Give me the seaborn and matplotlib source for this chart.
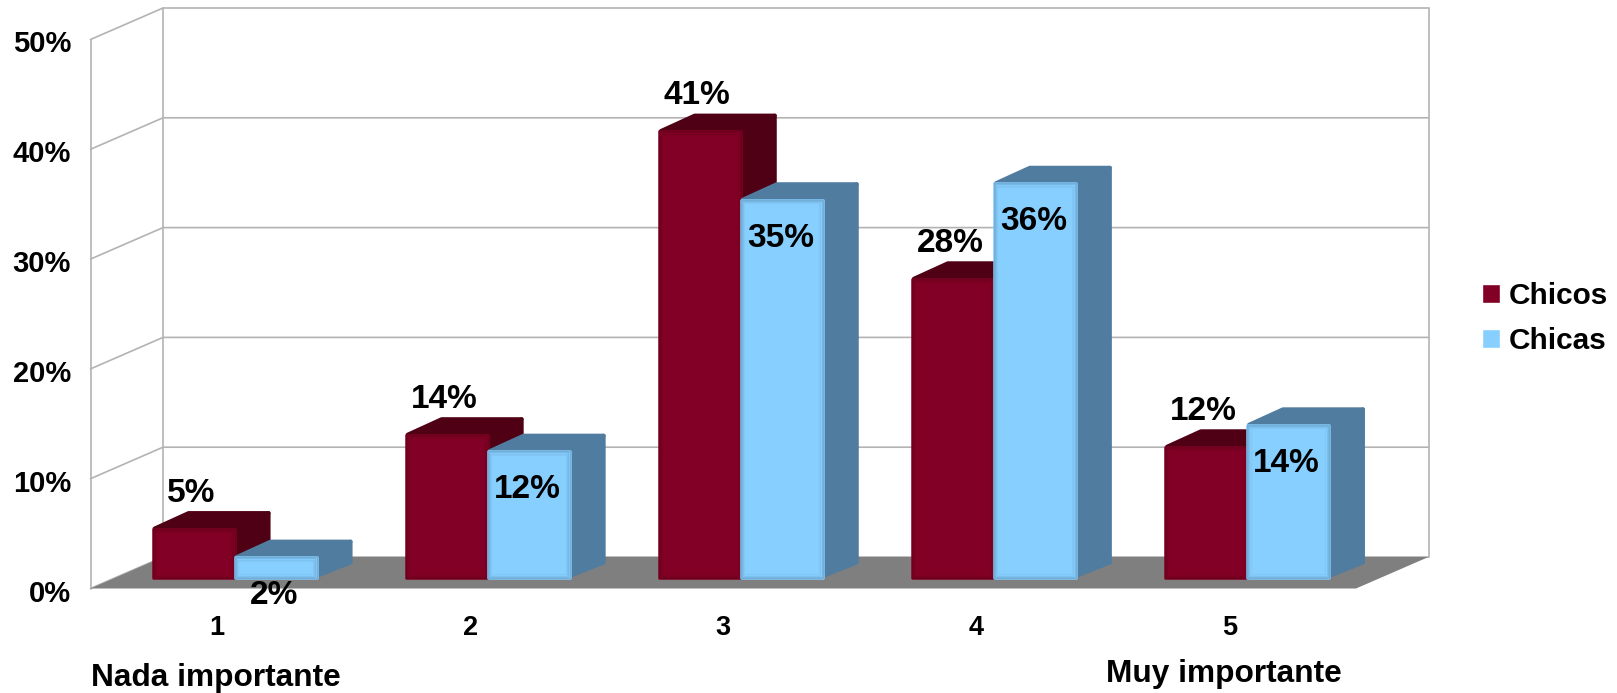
import matplotlib
matplotlib.use('Agg')
import matplotlib.pyplot as plt
import matplotlib.transforms as mtransforms
from matplotlib.patches import Polygon, Rectangle
from matplotlib.ticker import PercentFormatter
import pandas as pd
import seaborn as sns

# Data (bar heights differ a little from the printed labels)
categories = ['1', '2', '3', '4', '5']
chicos = [4.5, 13.05, 40.7, 27.25, 11.95]
chicas = [1.9, 11.55, 34.45, 35.95, 13.95]
chicos_labels = ['5%', '14%', '41%', '28%', '12%']
chicas_labels = ['2%', '12%', '35%', '36%', '14%']
y_ticks = [0, 10, 20, 30, 40, 50]

# Colours
front_colors = {'Chicos': '#820025', 'Chicas': '#87cfff'}
side_colors = {'Chicos': '#4f0014', 'Chicas': '#507ca0'}
edge_colors = {'Chicos': '#5e0018', 'Chicas': '#5f93ba'}
grid_color = '#b3b3b3'
floor_color = '#7f7f7f'

sns.set_theme(style='white')
plt.rcParams['font.family'] = ['Liberation Sans', 'DejaVu Sans']
plt.rcParams['font.weight'] = 'bold'

# Font sizes
tick_size = 21
xtick_size = 19.5
value_size = 24
note_size = 22.8
legend_size = 21.4

W, H = 1617, 693
fig = plt.figure(figsize=(W / 100, H / 100), dpi=100)

# Front plane of the fake 3D box, in pixels of the picture
left, right, top, bottom = 90.5, 1356, 39.5, 588.5
ax = fig.add_axes([left / W, 1 - bottom / H, (right - left) / W, (bottom - top) / H])

df = pd.DataFrame({
    'Respuesta': categories * 2,
    'Porcentaje': chicos + chicas,
    'Sexo': ['Chicos'] * len(categories) + ['Chicas'] * len(categories),
})

sns.barplot(data=df, x='Respuesta', y='Porcentaje', hue='Sexo', order=categories,
            hue_order=['Chicos', 'Chicas'], palette=front_colors, width=0.648,
            saturation=1, ax=ax, zorder=10)

ax.set_xlim(-0.5, 4.5)
ax.set_ylim(0, 50)
ax.set_xlabel('')
ax.set_ylabel('')
sns.despine(ax=ax, left=True, bottom=True)

# Depth of the box and of the bars, pixels converted to data units
px_x = (right - left) / 5
px_y = (bottom - top) / 50
box_dx, box_dy = 72.5 / px_x, 31.5 / px_y
bar_off_x, bar_off_y = 17.5 / px_x, 10.5 / px_y
round_x, round_y = 2 / px_x, 2 / px_y  # the thick round stroke grows the shapes by 2 px
bar_dx, bar_dy = 34 / px_x, 15.5 / px_y

# Walls, floor and grid
x0, x1 = ax.get_xlim()
ax.add_patch(Polygon([(x0, 0), (x1, 0), (x1 + box_dx, box_dy), (x0 + box_dx, box_dy)],
                     facecolor=floor_color, edgecolor='none', clip_on=False, zorder=2))
for t in y_ticks:
    ax.plot([x0, x0 + box_dx, x1 + box_dx], [t, t + box_dy, t + box_dy],
            color=grid_color, lw=1.2, clip_on=False, zorder=1)
ax.plot([x0, x0], [0, 50], color=grid_color, lw=1.2, clip_on=False, zorder=1)
ax.plot([x0 + box_dx] * 2, [box_dy, 50 + box_dy], color=grid_color, lw=1.2, clip_on=False, zorder=1)
ax.plot([x1 + box_dx] * 2, [box_dy, 50 + box_dy], color=grid_color, lw=1.2, clip_on=False, zorder=1)

# Extrude the bars and add the value labels
shift = mtransforms.Affine2D().translate(bar_off_x, bar_off_y) + ax.transData
series = [('Chicos', ax.containers[0], chicos_labels, 35.5, -2),
          ('Chicas', ax.containers[1], chicas_labels, -38.5, -1)]
for name, container, labels, label_off, label_dx in series:
    for bar, label in zip(container.patches, labels):
        bx = bar.get_x()
        bw = bar.get_width()
        bh = bar.get_height()
        z = 10 + bx * 2
        side = [(bx + bw, round_y), (bx + bw, bh), (bx + bw + bar_dx, bh + bar_dy),
                (bx + bw + bar_dx, bar_dy)]
        roof = [(bx + round_x, bh), (bx + bw, bh), (bx + bw + bar_dx, bh + bar_dy),
                (bx + round_x + bar_dx, bh + bar_dy)]
        for pts in (side, roof):
            ax.add_patch(Polygon(pts, closed=True, transform=shift, clip_on=False,
                                 facecolor=side_colors[name], edgecolor=side_colors[name],
                                 lw=2.9, joinstyle='round', zorder=z))
        bar.set_transform(shift)
        bar.set_clip_on(False)
        bar.set_edgecolor(front_colors[name])
        bar.set_linewidth(1.8)
        bar.set_joinstyle('round')
        bar.set_zorder(z + 0.1)
        # soft bevel along the edges of the front face
        for inset, alpha in [(0, 0.5), (1.2, 0.35), (2.4, 0.2), (3.6, 0.1)]:
            ax.add_patch(Rectangle((bx + inset / px_x, inset / px_y),
                                   bw - 2 * inset / px_x, bh - 2 * inset / px_y,
                                   transform=shift, fill=False, clip_on=False,
                                   edgecolor=edge_colors[name], alpha=alpha, lw=0.9,
                                   joinstyle='round', zorder=z + 0.2))
        ax.annotate(label, xy=(bx + bw / 2, bh), xycoords=shift,
                    xytext=(label_dx, label_off * 0.72),
                    textcoords='offset points', ha='center', va='center',
                    fontsize=value_size, fontweight='bold', color='black',
                    zorder=50, annotation_clip=False)

# Axis labels
ax.set_yticks(y_ticks)
ax.yaxis.set_major_formatter(PercentFormatter(decimals=0))
ax.tick_params(axis='y', length=0, pad=14, labelsize=tick_size, labelcolor='black')
ax.tick_params(axis='x', length=0, pad=19, labelsize=xtick_size, labelcolor='black')
nudge = mtransforms.Affine2D().translate(0, -2)
for lab in ax.get_yticklabels():
    lab.set_fontweight('bold')
    lab.set_transform(lab.get_transform() + nudge)
for lab in ax.get_xticklabels():
    lab.set_fontweight('bold')

fig.text(90.8 / W, 1 - 678 / H, 'Nada importante', fontsize=note_size, fontweight='bold',
         color='black', va='center', ha='left')
fig.text(1105.5 / W, 1 - 674 / H, 'Muy importante', fontsize=note_size, fontweight='bold',
         color='black', va='center', ha='left')

# Legend
sns.move_legend(ax, 'center left', bbox_to_anchor=(1482 / W, 1 - 318.5 / H),
                bbox_transform=fig.transFigure, frameon=False, title=None,
                fontsize=legend_size, handlelength=0.61, handleheight=0.61,
                handletextpad=0.28, labelspacing=0.565, borderpad=0, borderaxespad=0)
for text in ax.get_legend().get_texts():
    text.set_fontweight('bold')
    text.set_color('black')

fig.savefig('out.png', dpi=100, facecolor='white')
